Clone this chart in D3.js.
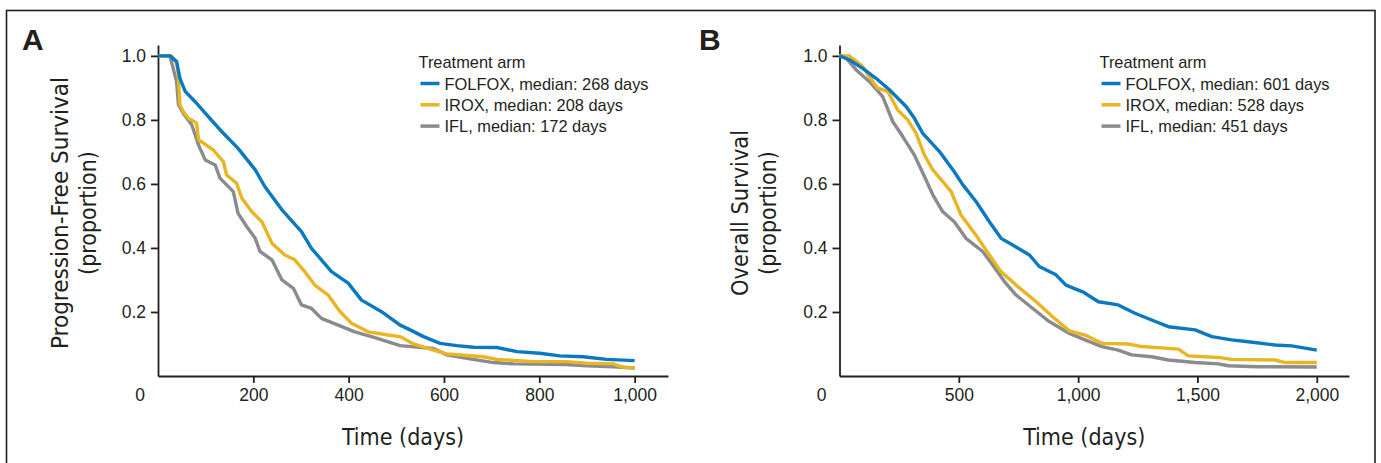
<!DOCTYPE html>
<html>
<head>
<meta charset="utf-8">
<script src="https://cdn.jsdelivr.net/npm/d3@7"></script>
<style>
  html, body { margin: 0; padding: 0; background: #fff; }
  svg { display: block; }
  .tick text { font-family: "Liberation Sans", Arial, sans-serif; font-size: 17.5px; fill: #231f20; }
  .axis path, .axis line { stroke: #231f20; stroke-width: 1.8px; }
  .title { font-family: "DejaVu Sans Condensed", "Liberation Sans Narrow", sans-serif; font-stretch: condensed; font-size: 23px; fill: #231f20; }
  .legend text { font-family: "Liberation Sans", Arial, sans-serif; font-size: 16.4px; fill: #231f20; }
  .panel-label { font-family: "Liberation Sans", Arial, sans-serif; font-weight: bold; font-size: 30px; fill: #231f20; }
</style>
</head>
<body>
<svg id="chart" width="1381" height="463"></svg>
<script>
// series names and colours
const arms = ["FOLFOX", "IROX", "IFL"];
const armColors = ["#0a79c0", "#e8b523", "#8b8b8e"];

// legend medians (days)
const pfsMedians = [268, 208, 172];
const osMedians = [601, 528, 451];

// tick labels
const yTicks = [0.2, 0.4, 0.6, 0.8, 1.0];
const pfsXTicks = [200, 400, 600, 800, 1000];
const osXTicks = [500, 1000, 1500, 2000];

// progression-free survival, [days, proportion]
const pfsFolfox = [[0,1],[25,1],[39,0.982],[46,0.93],[57,0.889],[81,0.852],[99,0.821],[134,0.763],[168,0.711],[204,0.644],[224,0.592],[260,0.519],[301,0.451],[322,0.399],[364,0.326],[399,0.29],[427,0.237],[469,0.201],[508,0.159],[529,0.144],[557,0.123],[592,0.102],[627,0.095],[662,0.09],[711,0.089],[753,0.076],[801,0.071],[843,0.063],[892,0.06],[941,0.052],[1000,0.048]];
const pfsIrox = [[0,1],[28,1],[39,0.98],[42,0.95],[46,0.847],[53,0.826],[64,0.805],[81,0.79],[85,0.738],[116,0.706],[137,0.67],[144,0.628],[165,0.602],[176,0.555],[197,0.513],[218,0.482],[239,0.415],[266,0.378],[287,0.363],[308,0.326],[329,0.284],[357,0.253],[382,0.201],[406,0.165],[441,0.138],[483,0.128],[508,0.123],[536,0.1],[578,0.081],[606,0.069],[648,0.064],[682,0.06],[711,0.052],[787,0.045],[857,0.045],[899,0.04],[955,0.038],[976,0.027],[1000,0.026]];
const pfsIfl = [[0,1],[25,1],[31,0.966],[39,0.92],[43,0.847],[53,0.821],[71,0.784],[85,0.722],[99,0.675],[120,0.659],[130,0.618],[158,0.576],[168,0.508],[186,0.467],[204,0.43],[214,0.389],[239,0.363],[260,0.3],[284,0.274],[301,0.222],[322,0.211],[343,0.18],[378,0.159],[413,0.138],[455,0.12],[508,0.095],[578,0.086],[606,0.066],[648,0.055],[704,0.042],[746,0.038],[857,0.036],[899,0.032],[955,0.029],[1000,0.025]];

// overall survival
const osFolfox = [[0,1],[41,0.988],[97,0.961],[153,0.93],[209,0.894],[279,0.842],[314,0.805],[349,0.758],[419,0.701],[481,0.638],[517,0.597],[572,0.545],[628,0.482],[677,0.43],[726,0.409],[796,0.378],[837,0.342],[907,0.316],[949,0.284],[1019,0.263],[1047,0.25],[1085,0.232],[1168,0.222],[1238,0.196],[1308,0.175],[1378,0.154],[1490,0.144],[1560,0.123],[1643,0.113],[1713,0.107],[1825,0.097],[1895,0.094],[2000,0.081]];
const osIrox = [[0,1],[41,1],[97,0.967],[139,0.92],[160,0.899],[202,0.889],[244,0.831],[286,0.8],[321,0.758],[356,0.69],[391,0.644],[433,0.607],[468,0.576],[509,0.503],[572,0.44],[628,0.378],[677,0.326],[740,0.284],[824,0.232],[893,0.185],[963,0.141],[1029,0.128],[1099,0.102],[1210,0.1],[1266,0.092],[1420,0.084],[1462,0.063],[1588,0.058],[1643,0.052],[1825,0.05],[1867,0.042],[2000,0.042]];
const osIfl = [[0,1],[20,1],[70,0.956],[125,0.92],[181,0.873],[223,0.795],[265,0.748],[314,0.69],[356,0.623],[391,0.566],[433,0.513],[481,0.482],[530,0.43],[600,0.389],[642,0.347],[691,0.295],[740,0.253],[810,0.211],[879,0.17],[963,0.133],[1029,0.113],[1099,0.092],[1168,0.081],[1224,0.066],[1308,0.06],[1378,0.05],[1490,0.042],[1588,0.038],[1629,0.032],[1755,0.029],[2000,0.028]];

const svg = d3.select("#chart");

// outer frame, bottom edge runs off the picture
svg.append("rect")
    .attr("x", 6.5).attr("y", 10.5)
    .attr("width", 1368.5).attr("height", 520)
    .attr("fill", "none")
    .attr("stroke", "#231f20")
    .attr("stroke-width", 1.6);

function drawPanel(p) {
    const x = d3.scaleLinear().domain([0, p.xMax]).range([p.left, p.right]);
    const y = d3.scaleLinear().domain([0, 1.034]).range([376, 45]);
    const g = svg.append("g");

    g.append("text")
        .attr("class", "panel-label")
        .attr("x", p.labelX).attr("y", 50)
        .text(p.label);

    g.append("g")
        .attr("class", "axis")
        .attr("transform", `translate(${p.left},0)`)
        .call(d3.axisLeft(y).tickValues(yTicks).tickSize(7).tickSizeOuter(0).tickPadding(5).tickFormat(d3.format(".1f")));

    const xa = g.append("g")
        .attr("class", "axis")
        .attr("transform", "translate(0,376)")
        .call(d3.axisBottom(x).tickValues(p.xTicks).tickSize(7).tickSizeOuter(0).tickPadding(6).tickFormat(d3.format(",")));

    // origin label sits left of the axis corner
    xa.append("g").attr("class", "tick")
        .append("text")
        .attr("x", p.left - 18).attr("y", 13).attr("dy", "0.71em")
        .attr("text-anchor", "middle")
        .text("0");

    g.append("text")
        .attr("class", "title")
        .attr("x", (p.left + p.right) / 2 - 10).attr("y", 445)
        .attr("text-anchor", "middle")
        .text("Time (days)");

    const yt = g.append("text")
        .attr("class", "title")
        .attr("transform", `translate(${p.yTitleX},213) rotate(-90)`)
        .attr("text-anchor", "middle");
    yt.append("tspan").attr("x", 0).attr("y", 0)
        .attr("textLength", p.yTitleLen).attr("lengthAdjust", "spacingAndGlyphs")
        .text(p.yTitle);
    yt.append("tspan").attr("x", 0).attr("y", 28).text("(proportion)");

    const line = d3.line()
        .x(d => x(d[0]))
        .y(d => y(d[1]));

    // grey first so blue ends on top
    [2, 1, 0].forEach(i => {
        g.append("path")
            .datum(p.series[i])
            .attr("fill", "none")
            .attr("stroke", armColors[i])
            .attr("stroke-width", 3.4)
            .attr("stroke-linejoin", "round")
            .attr("d", line);
    });

    const lg = g.append("g").attr("class", "legend")
        .attr("transform", `translate(${p.legendX},0)`);
    lg.append("text").attr("x", -2).attr("y", 68).text("Treatment arm");
    arms.forEach((a, i) => {
        const yy = 83.5 + i * 21.3;
        lg.append("line")
            .attr("x1", 0).attr("x2", 19)
            .attr("y1", yy).attr("y2", yy)
            .attr("stroke", armColors[i])
            .attr("stroke-width", 3.5);
        lg.append("text")
            .attr("x", 24).attr("y", yy + 6)
            .text(`${a}, median: ${p.medians[i]} days`);
    });
}

drawPanel({
    label: "A", labelX: 22,
    left: 158, right: 668, xMax: 1070,
    xTicks: pfsXTicks,
    yTitle: "Progression-Free Survival", yTitleX: 68, yTitleLen: 272,
    series: [pfsFolfox, pfsIrox, pfsIfl],
    medians: pfsMedians,
    legendX: 420.5
});

drawPanel({
    label: "B", labelX: 699,
    left: 839.5, right: 1349, xMax: 2135,
    xTicks: osXTicks,
    yTitle: "Overall Survival", yTitleX: 748, yTitleLen: 166,
    series: [osFolfox, osIrox, osIfl],
    medians: osMedians,
    legendX: 1101.5
});
</script>
</body>
</html>
